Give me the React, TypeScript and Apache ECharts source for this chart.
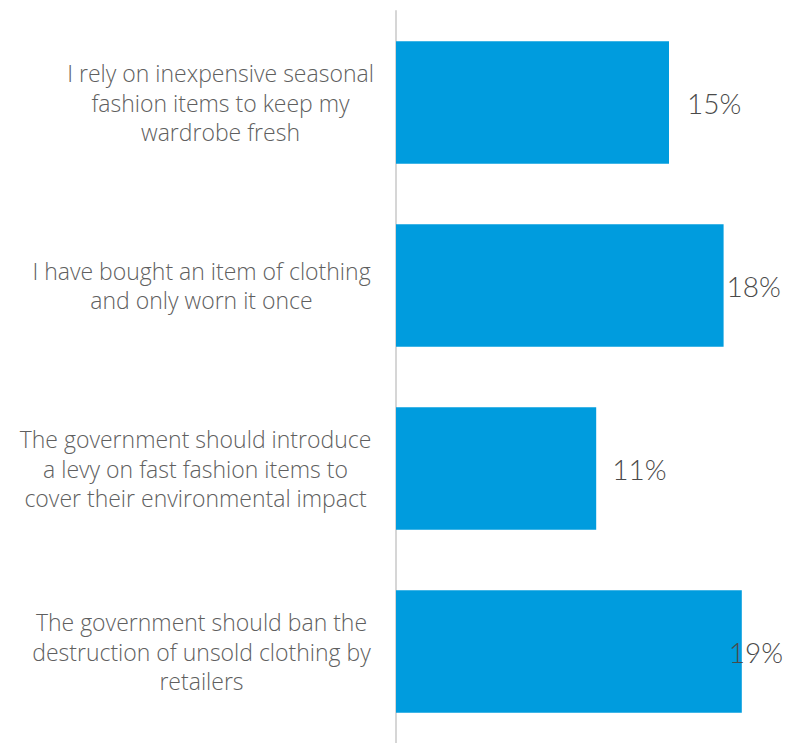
import React, { useEffect, useRef } from "react";
import * as echarts from "echarts";

const categories = [
  "I rely on inexpensive seasonal\nfashion items to keep my\nwardrobe fresh",
  "I have bought an item of clothing\nand only worn it once",
  "The government should introduce\na levy on fast fashion items to\ncover their environmental impact",
  "The government should ban the\ndestruction of unsold clothing by\nretailers",
];
const values = [15, 18, 11, 19];
const valueLabels = ["15%", "18%", "11%", "19%"];

const labelBlockWidths = [305, 343, 355, 343];
const labelDistances = [18, 3, 16, -13];

export default function App() {
  const ref = useRef<HTMLDivElement>(null);
  useEffect(() => {
    if (!ref.current) return;
    const chart = echarts.init(ref.current, undefined, { renderer: "svg" });
    const rich: Record<string, any> = {};
    labelBlockWidths.forEach((w, i) => {
      rich["l" + i] = {
        width: w,
        align: "center",
        fontSize: 23,
        lineHeight: 29.5,
        color: "#5f5f5f",
        fontFamily: "'Open Sans', sans-serif",
        fontWeight: 300,
      };
    });
    chart.setOption({
      animation: false,
      grid: { left: 396, right: 27, top: 11, bottom: -6, containLabel: false },
      xAxis: {
        type: "value",
        min: 0,
        max: 20,
        show: false,
      },
      yAxis: {
        type: "category",
        inverse: true,
        data: categories,
        axisLine: { show: true, lineStyle: { color: "#d6d6d6", width: 2 } },
        axisTick: { show: false },
        axisLabel: {
          margin: 23,
          align: "right",
          formatter: (v: string) => {
            const i = categories.indexOf(v);
            return v
              .split("\n")
              .map((line) => `{l${i}|${line}}`)
              .join("\n");
          },
          rich,
        },
      },
      series: [
        {
          type: "bar",
          barCategoryGap: "33%",
          itemStyle: { color: "#009cde" },
          data: values.map((v, i) => ({
            value: v,
            label: {
              show: true,
              position: "right",
              distance: labelDistances[i],
              formatter: valueLabels[i],
              fontSize: 28,
              color: "#4a4a4a",
              fontFamily: "Lato, 'Open Sans', sans-serif",
              fontWeight: 300,
            },
          })),
        },
      ],
    });
    return () => chart.dispose();
  }, []);
  return (
    <div
      ref={ref}
      style={{ position: "fixed", left: 0, top: 0, width: 787, height: 743, background: "#fff" }}
    />
  );
}
